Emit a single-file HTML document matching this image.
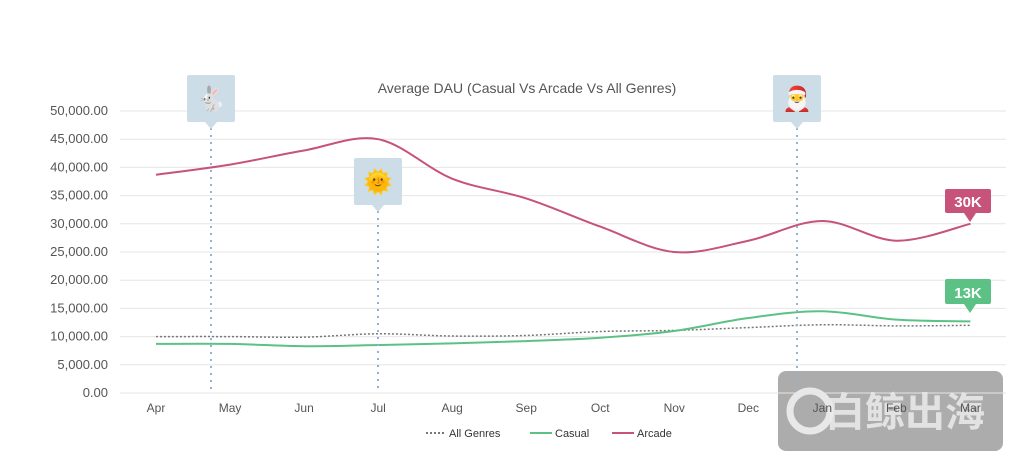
<!DOCTYPE html><html><head><meta charset="utf-8"><style>
body{margin:0;background:#fff;width:1014px;height:461px;overflow:hidden;font-family:"Liberation Sans","Noto Sans CJK SC",sans-serif}
</style></head><body>
<svg id="s" width="1014" height="461" xmlns="http://www.w3.org/2000/svg" font-family="Liberation Sans, sans-serif">
<rect x="778" y="371" width="225" height="80" rx="8" fill="rgba(140,140,140,0.72)"/>
<circle cx="810" cy="411" r="20" fill="none" stroke="#e8e8e8" stroke-width="7"/>
<text x="905" y="426" text-anchor="middle" font-size="40" font-weight="bold" fill="rgba(235,235,235,0.85)" font-family="Noto Sans CJK SC, sans-serif">白鲸出海</text>
<text x="527" y="93" text-anchor="middle" font-size="14" fill="#555">Average DAU (Casual Vs Arcade Vs All Genres)</text>
<g id="grid"></g>
<g id="lines"></g>
<g font-size="12" fill="#333">
<line x1="426" y1="433" x2="446" y2="433" stroke="#777" stroke-width="2" stroke-dasharray="2,2"/><text x="449" y="437" font-size="11">All Genres</text>
<line x1="530" y1="433" x2="552" y2="433" stroke="#5cc184" stroke-width="2"/><text x="555" y="437" font-size="11">Casual</text>
<line x1="612" y1="433" x2="634" y2="433" stroke="#c7527a" stroke-width="2"/><text x="637" y="437" font-size="11">Arcade</text>
</g>
<g stroke="#8fb3d3" stroke-width="2" stroke-dasharray="2,5">
<line x1="211" y1="128" x2="211" y2="393"/><line x1="378" y1="211" x2="378" y2="393"/><line x1="797" y1="128" x2="797" y2="393"/>
</g>
<g fill="#cddde8">
<rect x="187" y="75" width="48" height="47" rx="2"/><path d="M205 122h12l-6 7z"/>
<rect x="354" y="158" width="48" height="47" rx="2"/><path d="M372 205h12l-6 7z"/>
<rect x="773" y="75" width="48" height="47" rx="2"/><path d="M791 122h12l-6 7z"/>
</g>
<g font-size="24" text-anchor="middle" font-family="Noto Color Emoji, DejaVu Sans, sans-serif">
<text x="211" y="107">🐇</text><text x="378" y="190">🌞</text><text x="797" y="107">🎅</text>
</g>
<rect x="945" y="189" width="46" height="24" rx="2" fill="#c7527a"/><path d="M964 213h12l-6 9z" fill="#c7527a"/>
<text x="968" y="207" text-anchor="middle" font-size="15" font-weight="bold" fill="#fff">30K</text>
<rect x="945" y="279" width="46" height="25" rx="2" fill="#5cc184"/><path d="M964 304h12l-6 9z" fill="#5cc184"/>
<text x="968" y="298" text-anchor="middle" font-size="15" font-weight="bold" fill="#fff">13K</text>
</svg>
<script>
var s='http://www.w3.org/2000/svg';
function el(p,t,a){var e=document.createElementNS(s,t);for(var k in a)e.setAttribute(k,a[k]);p.appendChild(e);return e;}
var g=document.getElementById('grid');
function Y(v){return 393-v*282/50000;}
for(var i=0;i<=10;i++){var y=Y(i*5000);el(g,'line',{x1:120,x2:1006,y1:y,y2:y,stroke:'#e6e6e6'});
var t=el(g,'text',{x:108,y:y+4,'text-anchor':'end','font-size':13,fill:'#555'});t.textContent=(i*5000).toLocaleString('en-US')+'.00';}
var m=['Apr','May','Jun','Jul','Aug','Sep','Oct','Nov','Dec','Jan','Feb','Mar'];
function X(i){return 156+i*74.04;}
m.forEach(function(n,i){var t=el(g,'text',{x:X(i),y:412,'text-anchor':'middle','font-size':12,fill:'#555'});t.textContent=n;});
function path(d){var p=d.map(function(v,i){return[X(i),Y(v)]});var s='M'+p[0];for(var i=0;i<p.length-1;i++){var a=p[i-1]||p[i],b=p[i],c=p[i+1],e=p[i+2]||c;
s+='C'+(b[0]+(c[0]-a[0])/6)+','+(b[1]+(c[1]-a[1])/6)+' '+(c[0]-(e[0]-b[0])/6)+','+(c[1]-(e[1]-b[1])/6)+' '+c[0]+','+c[1];}return s;}
var L=document.getElementById('lines');
el(L,'path',{d:path([10000,10000,9900,10500,10100,10200,10900,11100,11600,12100,11900,12000]),fill:'none',stroke:'#777','stroke-width':1.5,'stroke-dasharray':'2,2'});
el(L,'path',{d:path([8700,8700,8300,8500,8800,9200,9800,11000,13300,14500,13000,12700]),fill:'none',stroke:'#5cc184','stroke-width':2});
el(L,'path',{d:path([38700,40500,43000,45000,38000,34500,29500,25000,27000,30500,27000,30000]),fill:'none',stroke:'#c7527a','stroke-width':2});
</script>
</body></html>
